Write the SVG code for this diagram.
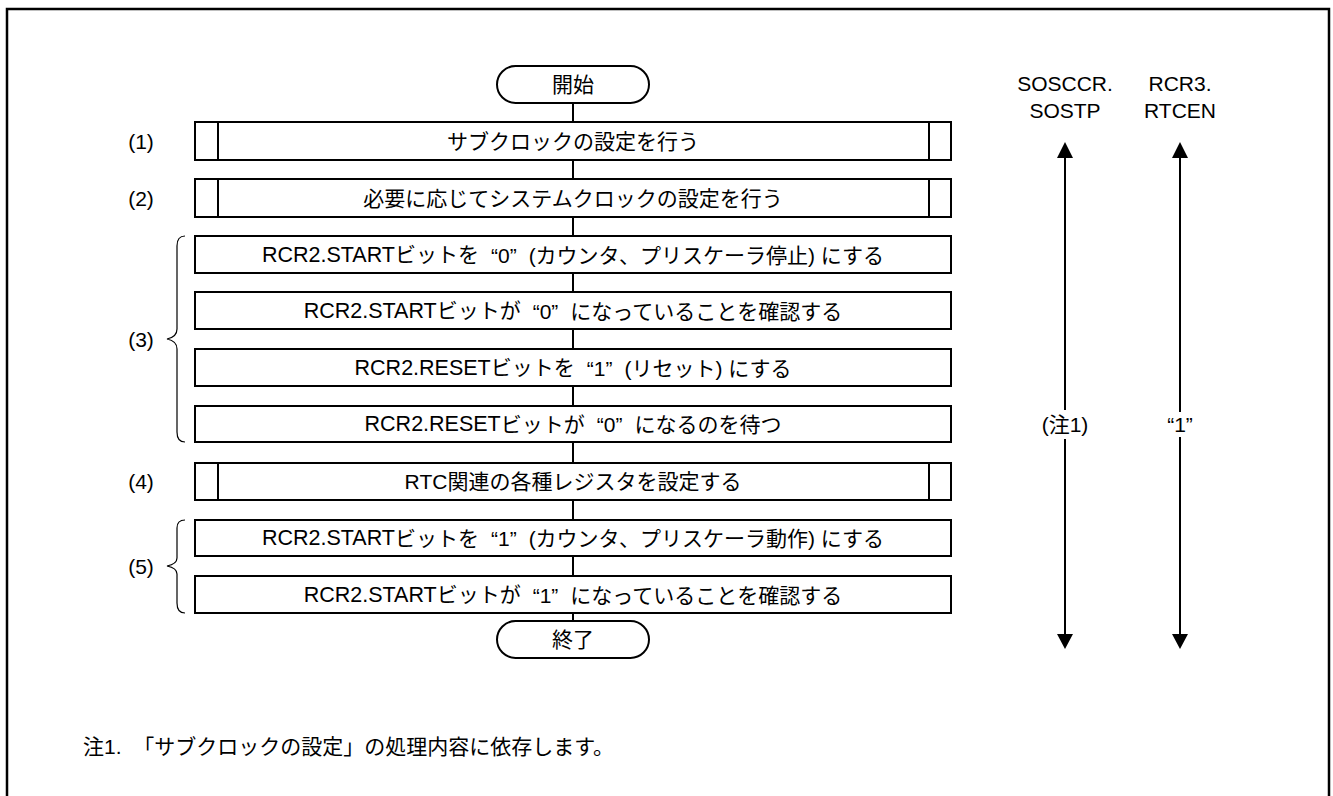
<svg xmlns="http://www.w3.org/2000/svg" width="1333" height="796" viewBox="0 0 1333 796">
<defs>
<style>
.t{font-family:"Liberation Sans","Noto Sans CJK JP",sans-serif;font-size:21px;fill:#000;text-anchor:middle;dominant-baseline:central}
.n{font-size:21.5px}
.l{text-anchor:start}
.b{fill:#fff;stroke:#000;stroke-width:2}
.ln{stroke:#000;stroke-width:2;fill:none}
.br{stroke:#000;stroke-width:1.2;fill:none}
</style>
</defs>
<rect x="0" y="0" width="1333" height="796" fill="#fff"/>
<rect x="7" y="9" width="1322" height="800" fill="none" stroke="#000" stroke-width="2.5"/>

<g id="connectors">
<line class="ln" x1="573" y1="103" x2="573" y2="122"/>
<line class="ln" x1="573" y1="160" x2="573" y2="179"/>
<line class="ln" x1="573" y1="217" x2="573" y2="236"/>
<line class="ln" x1="573" y1="273" x2="573" y2="292"/>
<line class="ln" x1="573" y1="329" x2="573" y2="349"/>
<line class="ln" x1="573" y1="386" x2="573" y2="406"/>
<line class="ln" x1="573" y1="442" x2="573" y2="463"/>
<line class="ln" x1="573" y1="500" x2="573" y2="520"/>
<line class="ln" x1="573" y1="556" x2="573" y2="576"/>
<line class="ln" x1="573" y1="613" x2="573" y2="621"/>
</g>

<g id="start"><rect class="b" x="497" y="66" width="152" height="37" rx="18.5"/><text class="t" x="573" y="84.5">開始</text></g>
<g id="s1"><rect class="b" x="195" y="122" width="756" height="38"/><line class="ln" x1="218" y1="122" x2="218" y2="160"/><line class="ln" x1="929" y1="122" x2="929" y2="160"/><text class="t" x="573" y="141">サブクロックの設定を行う</text></g>
<g id="s2"><rect class="b" x="195" y="179" width="756" height="38"/><line class="ln" x1="218" y1="179" x2="218" y2="217"/><line class="ln" x1="929" y1="179" x2="929" y2="217"/><text class="t" x="573" y="198">必要に応じてシステムクロックの設定を行う</text></g>
<g id="s3a"><rect class="b" x="195" y="236" width="756" height="37"/><text class="t" x="573" y="254.5"><tspan class="n">RCR2.START</tspan>ビットを<tspan dx="12">“0”</tspan><tspan dx="12">(カウンタ、プリスケーラ停止) にする</tspan></text></g>
<g id="s3b"><rect class="b" x="195" y="292" width="756" height="37"/><text class="t" x="573" y="310.5"><tspan class="n">RCR2.START</tspan>ビットが<tspan dx="12">“0”</tspan><tspan dx="12">になっていることを確認する</tspan></text></g>
<g id="s3c"><rect class="b" x="195" y="349" width="756" height="37"/><text class="t" x="573" y="367.5"><tspan class="n">RCR2.RESET</tspan>ビットを<tspan dx="12">“1”</tspan><tspan dx="12">(リセット) にする</tspan></text></g>
<g id="s3d"><rect class="b" x="195" y="406" width="756" height="36"/><text class="t" x="573" y="424"><tspan class="n">RCR2.RESET</tspan>ビットが<tspan dx="12">“0”</tspan><tspan dx="12">になるのを待つ</tspan></text></g>
<g id="s4"><rect class="b" x="195" y="463" width="756" height="37"/><line class="ln" x1="218" y1="463" x2="218" y2="500"/><line class="ln" x1="929" y1="463" x2="929" y2="500"/><text class="t" x="573" y="481.5">RTC関連の各種レジスタを設定する</text></g>
<g id="s5a"><rect class="b" x="195" y="520" width="756" height="36"/><text class="t" x="573" y="538"><tspan class="n">RCR2.START</tspan>ビットを<tspan dx="12">“1”</tspan><tspan dx="12">(カウンタ、プリスケーラ動作) にする</tspan></text></g>
<g id="s5b"><rect class="b" x="195" y="576" width="756" height="37"/><text class="t" x="573" y="594.5"><tspan class="n">RCR2.START</tspan>ビットが<tspan dx="12">“1”</tspan><tspan dx="12">になっていることを確認する</tspan></text></g>
<g id="end"><rect class="b" x="497" y="621" width="152" height="37" rx="18.5"/><text class="t" x="573" y="639.5">終了</text></g>

<g id="labels">
<text class="t" x="141" y="141">(1)</text>
<text class="t" x="141" y="198">(2)</text>
<text class="t" x="141" y="339">(3)</text>
<text class="t" x="141" y="481.5">(4)</text>
<text class="t" x="141" y="566">(5)</text>
<path class="br" d="M185,236 Q177,236 177,246 L177,329 Q177,337 167,339 Q177,341 177,349 L177,432 Q177,442 185,442"/>
<path class="br" d="M185,520 Q177,520 177,528 L177,558 Q177,564 167,566 Q177,568 177,574 L177,603 Q177,613 185,613"/>
</g>

<g id="sosccr">
<text class="t" x="1065" y="83">SOSCCR.</text>
<text class="t" x="1065" y="110">SOSTP</text>
<polygon points="1065,142 1073,158 1057,158" fill="#000"/>
<line class="ln" x1="1065" y1="156" x2="1065" y2="410"/>
<line class="ln" x1="1065" y1="439" x2="1065" y2="636"/>
<polygon points="1065,649 1073,634 1057,634" fill="#000"/>
<text class="t" x="1065" y="424">(注1)</text>
</g>
<g id="rcr3">
<text class="t" x="1180" y="83">RCR3.</text>
<text class="t" x="1180" y="110">RTCEN</text>
<polygon points="1180,142 1188,158 1172,158" fill="#000"/>
<line class="ln" x1="1180" y1="156" x2="1180" y2="412"/>
<line class="ln" x1="1180" y1="437" x2="1180" y2="636"/>
<polygon points="1180,649 1188,634 1172,634" fill="#000"/>
<text class="t" x="1180" y="424">“1”</text>
</g>

<g id="note"><text class="t l" x="83" y="746">注1.&#160;&#160;「サブクロックの設定」の処理内容に依存します。</text></g>
</svg>
